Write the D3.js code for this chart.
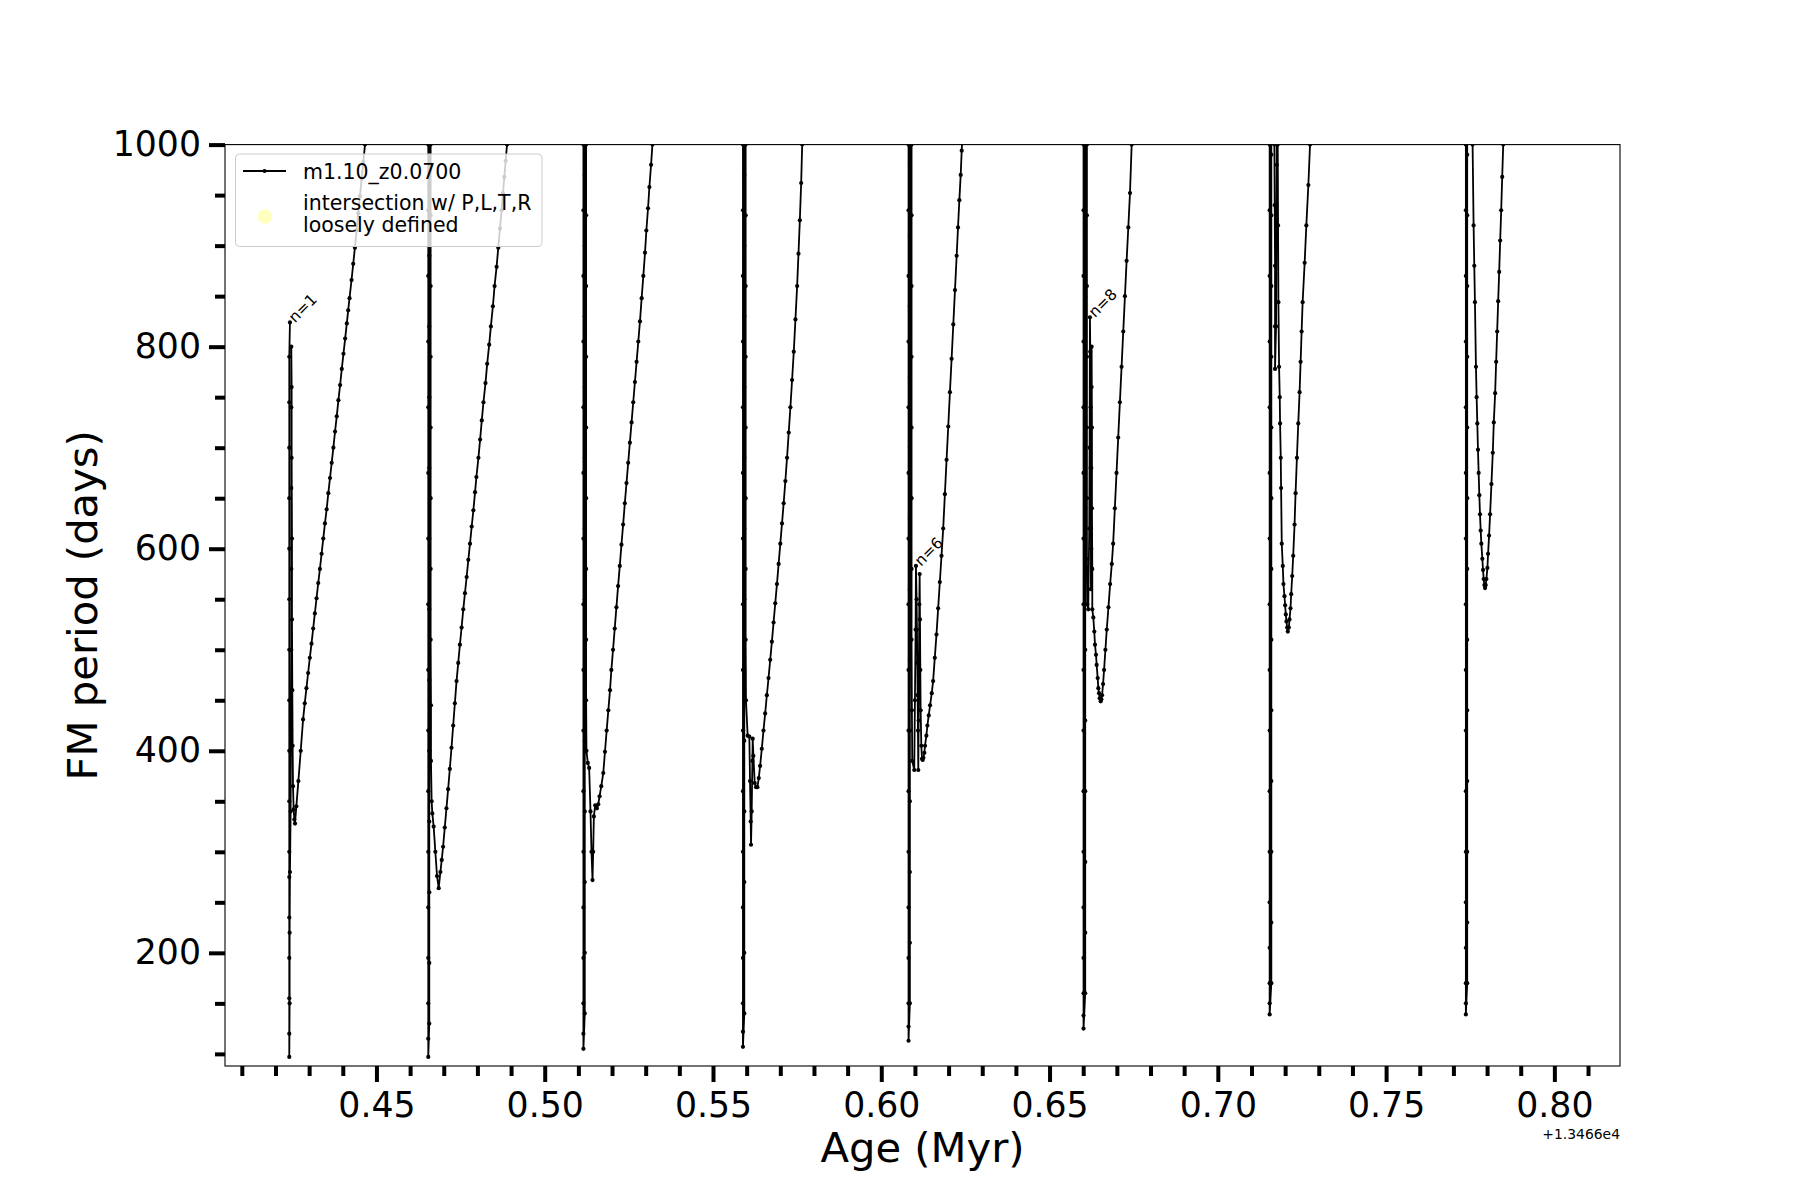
<!DOCTYPE html>
<html lang="en">
<head>
<meta charset="UTF-8">
<title>FM period vs age</title>
<script src="https://cdn.jsdelivr.net/npm/d3@7"></script>
<style>
  body { margin: 0; background: #fff; }
  svg { font-family: 'DejaVu Sans', sans-serif; }
</style>
</head>
<body>
<svg id="chart" width="1800" height="1200"></svg>
<script>
// ages are offsets from 1.3466e4 Myr, periods in days
// one track, split per thermal pulse: [age, period]
const pulse1 = [
  [0.4243,824],[0.4241,790],[0.4241,745],[0.4241,700],[0.4241,650],[0.4241,600],[0.4241,550],[0.4241,500],
  [0.4241,450],[0.4241,400],[0.4241,350],[0.4241,300],[0.4241,275],[0.4241,235],[0.4241,195],[0.4241,155],
  [0.4241,120],[0.4241,97],[0.4242,150],[0.4242,220],[0.4243,280],[0.4245,340],[0.4246,420],[0.4247,500],
  [0.4247,580],[0.4247,660],[0.4247,740],[0.4247,800],[0.4248,760],[0.4248,690],[0.4249,610],[0.4249,530],
  [0.4250,460],[0.4251,405],[0.4252,365],[0.4254,342],[0.4256,332],[0.4258,328],[0.4262,345],[0.4268,370],
  [0.4275,400],[0.4282,431],[0.4287,447],[0.4292,462],[0.4297,477],[0.4302,492],[0.4307,506],[0.4312,521],
  [0.4317,536],[0.4322,551],[0.4327,566],[0.4332,580],[0.4337,595],[0.4342,610],[0.4347,625],[0.4352,639],
  [0.4357,655],[0.4362,670],[0.4367,685],[0.4372,700],[0.4377,716],[0.4382,731],[0.4387,747],[0.4392,762],
  [0.4397,778],[0.4402,793],[0.4407,808],[0.4412,823],[0.4416,836],[0.4420,848],[0.4426,866],[0.4431,882],
  [0.4436,898],[0.4441,915],[0.4446,932],[0.4451,949],[0.4456,966],[0.4461,983],[0.4466,1000],[0.4480,1050]
];
const pulse2 = [
  [0.4654,1400],[0.4654,1000],[0.4654,935],[0.4654,870],[0.4654,805],[0.4654,740],[0.4654,675],[0.4654,610],
  [0.4654,545],[0.4654,480],[0.4654,420],[0.4654,360],[0.4654,300],[0.4654,245],[0.4654,195],[0.4654,150],
  [0.4654,115],[0.4654,97],[0.4657,130],[0.4657,190],[0.4657,260],[0.4657,330],[0.4657,400],[0.4657,470],
  [0.4657,540],[0.4657,610],[0.4657,680],[0.4657,750],[0.4657,820],[0.4657,890],[0.4657,960],[0.4658,1400],
  [0.4661,1000],[0.4661,930],[0.4661,860],[0.4661,790],[0.4661,720],[0.4661,650],[0.4661,580],[0.4661,510],
  [0.4662,445],[0.4662,390],[0.4664,350],[0.4666,338],[0.4670,325],[0.4675,300],[0.4680,276],[0.4685,264],
  [0.4690,280],[0.4694,292],[0.4698,305],[0.4703,324],[0.4708,343],[0.4713,362],[0.4718,382],[0.4723,403],
  [0.4728,425],[0.4733,447],[0.4738,469],[0.4743,487],[0.4748,505],[0.4753,522],[0.4758,540],[0.4763,556],
  [0.4768,572],[0.4773,589],[0.4778,605],[0.4783,622],[0.4788,638],[0.4793,656],[0.4797,671],[0.4803,690],
  [0.4808,708],[0.4813,727],[0.4818,745],[0.4824,764],[0.4829,783],[0.4835,802],[0.4840,820],[0.4846,840],
  [0.4851,860],[0.4857,879],[0.4862,898],[0.4867,917],[0.4872,935],[0.4876,952],[0.4880,968],[0.4884,984],
  [0.4888,1000],[0.4900,1045]
];
const pulse3 = [
  [0.5115,1400],[0.5115,1000],[0.5115,935],[0.5115,870],[0.5115,805],[0.5115,740],[0.5115,675],[0.5115,610],
  [0.5115,545],[0.5115,480],[0.5115,420],[0.5115,360],[0.5115,300],[0.5115,245],[0.5115,195],[0.5115,150],
  [0.5115,120],[0.5115,105],[0.5119,140],[0.5119,200],[0.5119,270],[0.5119,340],[0.5119,410],[0.5119,480],
  [0.5119,550],[0.5119,620],[0.5119,690],[0.5119,760],[0.5119,830],[0.5119,900],[0.5119,970],[0.5120,1400],
  [0.5123,1000],[0.5123,930],[0.5123,860],[0.5123,790],[0.5123,720],[0.5123,650],[0.5123,580],[0.5123,510],
  [0.5123,450],[0.5124,400],[0.5128,388],[0.5132,383],[0.5136,340],[0.5139,300],[0.5142,272],[0.5144,300],
  [0.5146,335],[0.5150,346],[0.5155,343],[0.5159,347],[0.5163,355],[0.5168,365],[0.5174,378],[0.5179,399],
  [0.5184,420],[0.5189,440],[0.5194,460],[0.5198,480],[0.5203,500],[0.5208,521],[0.5213,542],[0.5218,563],
  [0.5223,583],[0.5228,604],[0.5233,624],[0.5238,645],[0.5243,665],[0.5248,685],[0.5253,705],[0.5258,725],
  [0.5263,745],[0.5268,765],[0.5273,785],[0.5278,805],[0.5283,825],[0.5288,848],[0.5293,870],[0.5298,893],
  [0.5302,915],[0.5307,937],[0.5311,958],[0.5316,980],[0.5320,1000],[0.5332,1050]
];
const pulse4 = [
  [0.5589,1400],[0.5589,1000],[0.5589,935],[0.5589,870],[0.5589,805],[0.5589,740],[0.5589,675],[0.5589,610],
  [0.5589,545],[0.5589,480],[0.5589,420],[0.5589,360],[0.5589,300],[0.5589,245],[0.5589,195],[0.5589,150],
  [0.5589,122],[0.5589,107],[0.5593,140],[0.5593,200],[0.5593,270],[0.5593,340],[0.5593,410],[0.5593,480],
  [0.5593,550],[0.5593,620],[0.5593,690],[0.5593,760],[0.5593,830],[0.5593,900],[0.5593,970],[0.5594,1400],
  [0.5597,1000],[0.5597,930],[0.5597,860],[0.5597,790],[0.5597,720],[0.5597,650],[0.5597,580],[0.5597,510],
  [0.5598,450],[0.5603,415],[0.5608,414],[0.5610,370],[0.5612,330],[0.5613,307],[0.5615,340],[0.5617,390],
  [0.5618,412],[0.5620,395],[0.5624,368],[0.5628,364],[0.5632,364],[0.5636,373],[0.5640,385],[0.5645,402],
  [0.5650,420],[0.5655,437],[0.5660,455],[0.5665,472],[0.5670,490],[0.5675,508],[0.5680,527],[0.5685,546],
  [0.5690,565],[0.5695,585],[0.5700,605],[0.5705,625],[0.5710,645],[0.5715,667],[0.5720,690],[0.5725,715],
  [0.5730,740],[0.5735,767],[0.5740,795],[0.5745,827],[0.5750,860],[0.5754,892],[0.5758,925],[0.5762,962],
  [0.5765,1000],[0.5775,1060]
];
const pulse5 = [
  [0.6081,1400],[0.6081,1000],[0.6081,935],[0.6081,870],[0.6081,805],[0.6081,740],[0.6081,675],[0.6081,610],
  [0.6081,545],[0.6081,480],[0.6081,420],[0.6081,360],[0.6081,300],[0.6081,245],[0.6081,195],[0.6081,150],
  [0.6081,127],[0.6081,113],[0.6085,150],[0.6085,210],[0.6085,280],[0.6085,350],[0.6085,420],[0.6085,490],
  [0.6085,560],[0.6085,630],[0.6085,700],[0.6085,770],[0.6085,840],[0.6085,910],[0.6085,980],[0.6086,1400],
  [0.6090,1000],[0.6090,930],[0.6090,860],[0.6090,790],[0.6090,720],[0.6090,650],[0.6090,580],[0.6090,510],
  [0.6091,440],[0.6092,390],[0.6098,381],[0.6100,450],[0.6102,520],[0.6103,583],[0.6105,550],[0.6106,520],
  [0.6107,487],[0.6108,455],[0.6109,420],[0.6110,381],[0.6111,430],[0.6112,490],[0.6113,545],[0.6114,575],
  [0.6115,530],[0.6116,480],[0.6117,440],[0.6119,405],[0.6121,392],[0.6123,391],[0.6125,393],[0.6128,398],
  [0.6130,405],[0.6134,415],[0.6137,425],[0.6141,435],[0.6145,445],[0.6150,457],[0.6154,469],[0.6159,492],
  [0.6164,515],[0.6169,541],[0.6174,567],[0.6179,593],[0.6184,620],[0.6189,654],[0.6194,688],[0.6199,721],
  [0.6204,755],[0.6209,788],[0.6214,822],[0.6219,856],[0.6224,890],[0.6228,918],[0.6232,945],[0.6236,970],
  [0.6239,994],[0.6248,1060]
];
const pulse6 = [
  [0.6601,1400],[0.6601,1000],[0.6601,935],[0.6601,870],[0.6601,805],[0.6601,740],[0.6601,675],[0.6601,610],
  [0.6601,545],[0.6601,480],[0.6601,420],[0.6601,360],[0.6601,300],[0.6601,245],[0.6601,195],[0.6601,160],
  [0.6601,138],[0.6601,125],[0.6606,160],[0.6606,220],[0.6606,290],[0.6606,360],[0.6606,430],[0.6606,500],
  [0.6606,570],[0.6606,640],[0.6606,710],[0.6606,780],[0.6606,850],[0.6606,920],[0.6606,990],[0.6607,1400],
  [0.6611,1000],[0.6611,930],[0.6611,860],[0.6611,790],[0.6611,720],[0.6611,650],[0.6611,590],[0.6612,545],
  [0.6615,540],[0.6618,620],[0.6619,700],[0.6620,829],[0.6621,795],[0.6622,740],[0.6622,680],[0.6623,620],
  [0.6623,560],[0.6624,600],[0.6624,680],[0.6625,760],[0.6625,800],[0.6626,720],[0.6626,640],[0.6627,580],
  [0.6627,540],[0.6630,532],[0.6633,518],[0.6635,505],[0.6638,495],[0.6640,485],[0.6643,472],[0.6645,462],
  [0.6647,457],[0.6649,452],[0.6652,449],[0.6654,451],[0.6656,455],[0.6659,466],[0.6662,480],[0.6666,500],
  [0.6670,520],[0.6675,542],[0.6680,565],[0.6685,585],[0.6689,605],[0.6694,640],[0.6699,675],[0.6704,710],
  [0.6709,745],[0.6714,780],[0.6719,815],[0.6724,850],[0.6729,885],[0.6734,918],[0.6739,952],[0.6744,1000],
  [0.6752,1060]
];
const pulse7 = [
  [0.7154,1400],[0.7154,1000],[0.7154,935],[0.7154,870],[0.7154,805],[0.7154,740],[0.7154,675],[0.7154,610],
  [0.7154,545],[0.7154,480],[0.7154,420],[0.7154,360],[0.7154,300],[0.7154,250],[0.7154,205],[0.7154,170],
  [0.7154,150],[0.7154,139],[0.7159,170],[0.7159,230],[0.7159,300],[0.7159,370],[0.7159,440],[0.7159,510],
  [0.7159,580],[0.7159,650],[0.7159,720],[0.7159,790],[0.7159,860],[0.7159,930],[0.7159,990],[0.7160,1400],
  [0.7168,1000],[0.7169,940],[0.7170,880],[0.7170,820],[0.7170,778],[0.7173,820],[0.7174,900],[0.7175,980],
  [0.7176,1400],[0.7178,1000],[0.7179,920],[0.7180,844],[0.7182,780],[0.7184,750],[0.7185,724],[0.7187,690],
  [0.7188,660],[0.7190,605],[0.7193,583],[0.7195,565],[0.7198,553],[0.7200,544],[0.7202,535],[0.7204,528],
  [0.7206,522],[0.7208,518],[0.7211,522],[0.7213,530],[0.7216,541],[0.7218,555],[0.7221,573],[0.7224,593],
  [0.7228,624],[0.7231,655],[0.7235,690],[0.7239,724],[0.7243,755],[0.7246,785],[0.7249,815],[0.7252,844],
  [0.7258,883],[0.7263,920],[0.7269,960],[0.7274,1000],[0.7282,1060]
];
const pulse8 = [
  [0.7737,1400],[0.7737,1000],[0.7737,935],[0.7737,870],[0.7737,805],[0.7737,740],[0.7737,675],[0.7737,610],
  [0.7737,545],[0.7737,480],[0.7737,420],[0.7737,360],[0.7737,300],[0.7737,250],[0.7737,205],[0.7737,170],
  [0.7737,150],[0.7737,139],[0.7741,170],[0.7741,230],[0.7741,300],[0.7741,370],[0.7741,440],[0.7741,510],
  [0.7741,580],[0.7741,650],[0.7741,720],[0.7741,790],[0.7741,860],[0.7741,930],[0.7741,990],[0.7742,1400],
  [0.7755,1050],[0.7757,1000],[0.7760,920],[0.7762,880],[0.7764,844],[0.7767,780],[0.7769,750],[0.7771,724],
  [0.7773,698],[0.7775,675],[0.7777,653],[0.7779,634],[0.7781,618],[0.7783,605],[0.7786,590],[0.7788,579],
  [0.7790,570],[0.7792,564],[0.7794,561],[0.7796,564],[0.7798,570],[0.7801,581],[0.7803,595],[0.7806,613],
  [0.7809,634],[0.7813,664],[0.7817,695],[0.7820,725],[0.7824,754],[0.7827,785],[0.7830,815],[0.7833,845],
  [0.7836,874],[0.7839,905],[0.7842,935],[0.7845,968],[0.7848,1000],[0.7860,1100],[0.8006,2000]
];

// point annotations
const noteText = ["n=1", "n=6", "n=8"];
const noteAge = [0.4243, 0.6103, 0.6620];
const notePeriod = [824, 583, 829];

// axes
const xMajor = [0.45, 0.50, 0.55, 0.60, 0.65, 0.70, 0.75, 0.80];
const yMajor = [200, 400, 600, 800, 1000];
const xLimits = [0.405, 0.8195];
const yLimits = [88, 1000];

const track = [].concat(pulse1, pulse2, pulse3, pulse4, pulse5, pulse6, pulse7, pulse8);

const svg = d3.select("#chart");
svg.append("rect").attr("width", 1800).attr("height", 1200).attr("fill", "#fff");

const plotL = 225, plotR = 1620, plotT = 144.6, plotB = 1066;
const x = d3.scaleLinear().domain(xLimits).range([plotL, plotR]);
const y = d3.scaleLinear().domain(yLimits).range([plotB, plotT]);

svg.append("clipPath").attr("id", "plotclip")
  .append("rect").attr("x", plotL).attr("y", plotT)
  .attr("width", plotR - plotL).attr("height", plotB - plotT);

// data
const plot = svg.append("g").attr("clip-path", "url(#plotclip)");
const line = d3.line().x(d => x(d[0])).y(d => y(d[1]));
plot.append("path").datum(track)
  .attr("d", line)
  .attr("fill", "none")
  .attr("stroke", "#000")
  .attr("stroke-width", 1.8)
  .attr("stroke-linejoin", "round");
plot.selectAll("circle.pt").data(track).join("circle")
  .attr("class", "pt")
  .attr("cx", d => x(d[0]))
  .attr("cy", d => y(d[1]))
  .attr("r", 2.1)
  .attr("fill", "#000");

// frame
svg.append("rect").attr("x", plotL).attr("y", plotT)
  .attr("width", plotR - plotL).attr("height", plotB - plotT)
  .attr("fill", "none").attr("stroke", "#000").attr("stroke-width", 1.1);

// ticks
const xMinor = d3.range(41, 82).map(v => v / 100).filter(v => Math.round(v * 100) % 5 !== 0);
const yMinor = d3.range(100, 1000, 50).filter(v => v % 200 !== 0);

function styleAxis(g) {
  g.select(".domain").remove();
  g.selectAll(".tick line").attr("stroke", "#000").attr("stroke-width", 4);
  g.selectAll(".tick text").attr("fill", "#000")
    .style("font-size", "34.7px").style("font-family", "'DejaVu Sans', sans-serif");
}

svg.append("g").attr("transform", `translate(0,${plotB})`)
  .call(d3.axisBottom(x).tickValues(xMinor).tickSize(10).tickFormat(""))
  .call(styleAxis);
svg.append("g").attr("transform", `translate(0,${plotB})`)
  .call(d3.axisBottom(x).tickValues(xMajor).tickSize(16).tickPadding(10).tickFormat(d3.format(".2f")))
  .call(styleAxis);
svg.append("g").attr("transform", `translate(${plotL},0)`)
  .call(d3.axisLeft(y).tickValues(yMinor).tickSize(10).tickFormat(""))
  .call(styleAxis);
svg.append("g").attr("transform", `translate(${plotL},0)`)
  .call(d3.axisLeft(y).tickValues(yMajor).tickSize(16).tickPadding(8).tickFormat(d3.format("d")))
  .call(styleAxis);

// axis labels
svg.append("text")
  .attr("x", (plotL + plotR) / 2).attr("y", 1162)
  .attr("text-anchor", "middle")
  .style("font-size", "41.7px")
  .text("Age (Myr)");
svg.append("text")
  .attr("transform", `translate(97,${(plotT + plotB) / 2}) rotate(-90)`)
  .attr("text-anchor", "middle")
  .style("font-size", "41.7px")
  .text("FM period (days)");
svg.append("text")
  .attr("x", plotR).attr("y", 1139)
  .attr("text-anchor", "end")
  .style("font-size", "13.9px")
  .text("+1.3466e4");

// annotations
noteText.forEach((t, i) => {
  svg.append("text")
    .attr("transform", `translate(${x(noteAge[i]) + 5},${y(notePeriod[i]) + 1}) rotate(-45)`)
    .style("font-size", "15.5px")
    .text(t);
});

// legend
const lg = svg.append("g");
lg.append("rect").attr("x", 235.5).attr("y", 154).attr("width", 306.5).attr("height", 92.5)
  .attr("rx", 4).attr("fill", "#fff").attr("fill-opacity", 0.8)
  .attr("stroke", "#cccccc").attr("stroke-width", 1);
lg.append("line").attr("x1", 243).attr("x2", 286).attr("y1", 171).attr("y2", 171)
  .attr("stroke", "#000").attr("stroke-width", 1.8);
lg.append("circle").attr("cx", 264.5).attr("cy", 171).attr("r", 2.1).attr("fill", "#000");
lg.append("text").attr("x", 303).attr("y", 179).style("font-size", "20.5px").text("m1.10_z0.0700");
lg.append("circle").attr("cx", 265).attr("cy", 216.5).attr("r", 7.3).attr("fill", "#ffffbf");
lg.append("text").attr("x", 303).attr("y", 210).style("font-size", "20.5px").text("intersection w/ P,L,T,R");
lg.append("text").attr("x", 303).attr("y", 231.5).style("font-size", "20.5px").text("loosely defined");
</script>
</body>
</html>
